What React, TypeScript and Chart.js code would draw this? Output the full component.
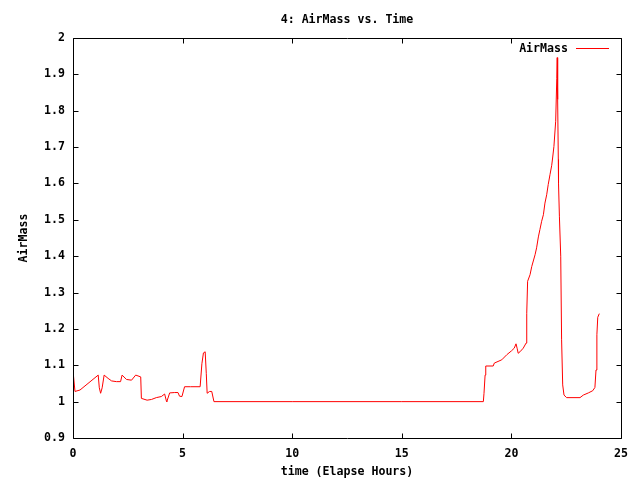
import React, { useEffect, useRef } from "react";
import { Chart, registerables } from "chart.js";

Chart.register(...registerables);

const titleText = "4: AirMass vs. Time";
const xTitle = "time (Elapse Hours)";
const yTitle = "AirMass";
const seriesLabel = "AirMass";

const timeHours = [
  0.0, 0.09, 0.32, 1.15, 1.2, 1.26, 1.33, 1.42, 1.6, 1.76, 1.98, 2.17, 2.24, 2.44, 2.67, 2.86, 3.09, 3.12,
  3.38, 3.58, 3.8, 4.03, 4.18, 4.26, 4.28, 4.41, 4.64, 4.79, 4.86, 4.97, 5.09, 5.36, 5.8, 5.88, 5.95, 6.03,
  6.08, 6.12, 6.23, 6.33, 6.43, 10.0, 15.0, 18.72, 18.75, 18.8, 18.83, 19.17, 19.22, 19.56, 19.79, 20.01,
  20.13, 20.21, 20.26, 20.31, 20.39, 20.54, 20.67, 20.7, 20.74, 20.85, 20.93, 21.08, 21.15, 21.23, 21.3,
  21.38, 21.46, 21.53, 21.61, 21.68, 21.76, 21.84, 21.88, 21.94, 22.02, 22.07, 22.09, 22.11, 22.14, 22.15,
  22.19, 22.25, 22.29, 22.34, 22.4, 22.52, 23.13, 23.28, 23.51, 23.71, 23.81, 23.86, 23.9, 23.94, 24.01,
];

const airMass = [
  1.085, 1.028, 1.032, 1.073, 1.038, 1.023, 1.038, 1.073, 1.064, 1.057, 1.055, 1.055, 1.073, 1.061, 1.059,
  1.073, 1.068, 1.009, 1.004, 1.006, 1.011, 1.014, 1.021, 1.002, 1.0, 1.024, 1.025, 1.025, 1.015, 1.014,
  1.041, 1.041, 1.041, 1.104, 1.134, 1.137, 1.078, 1.023, 1.028, 1.028, 1.0, 1.0, 1.0, 1.0, 1.023, 1.073,
  1.098, 1.098, 1.106, 1.115, 1.129, 1.14, 1.147, 1.159, 1.147, 1.133, 1.137, 1.147, 1.161, 1.243, 1.331,
  1.349, 1.372, 1.404, 1.423, 1.453, 1.473, 1.496, 1.514, 1.546, 1.569, 1.597, 1.624, 1.65, 1.67, 1.702,
  1.771, 1.888, 1.946, 1.831, 1.666, 1.6, 1.51, 1.4, 1.17, 1.046, 1.018, 1.011, 1.011, 1.018, 1.024, 1.03,
  1.039, 1.087, 1.184, 1.232, 1.242,
];

const xMin = 0;
const xMax = 25;
const xStep = 5;
const yMin = 0.9;
const yMax = 2;
const yStep = 0.1;

const FONT = "'DejaVu Sans Mono', monospace";
const FONT_SIZE = 11.6;

const gnuplotPlugin = {
  id: "gnuplotFrame",
  afterDraw(chart: any) {
    const { ctx, chartArea, scales } = chart;
    const { left, right, top, bottom } = chartArea;
    const L = Math.round(left) + 0.5;
    const R = Math.round(right) + 0.5;
    const T = Math.round(top) + 0.5;
    const B = Math.round(bottom) + 0.5;
    const tl = 5;
    ctx.save();
    ctx.strokeStyle = "#000";
    ctx.lineWidth = 1;
    ctx.beginPath();
    ctx.moveTo(L, T);
    ctx.lineTo(R, T);
    ctx.lineTo(R, B);
    ctx.lineTo(L, B);
    ctx.closePath();
    // x ticks (bottom and top, inward)
    scales.x.ticks.forEach((t: any) => {
      const px = Math.round(scales.x.getPixelForValue(t.value)) + 0.5;
      ctx.moveTo(px, B);
      ctx.lineTo(px, B - tl);
      ctx.moveTo(px, T);
      ctx.lineTo(px, T + tl);
    });
    scales.y.ticks.forEach((t: any) => {
      const py = Math.round(scales.y.getPixelForValue(t.value)) + 0.5;
      ctx.moveTo(L, py);
      ctx.lineTo(L + tl, py);
      ctx.moveTo(R, py);
      ctx.lineTo(R - tl, py);
    });
    ctx.stroke();

    // title
    ctx.fillStyle = "#000";
    ctx.font = `bold ${FONT_SIZE}px ${FONT}`;
    ctx.textAlign = "center";
    ctx.textBaseline = "middle";
    ctx.fillText(titleText, (left + right) / 2, 20);

    // legend
    ctx.textAlign = "right";
    ctx.fillText(seriesLabel, 568, 49);
    ctx.strokeStyle = "#ff0000";
    ctx.beginPath();
    ctx.moveTo(576, 48.5);
    ctx.lineTo(609, 48.5);
    ctx.stroke();
    ctx.restore();
  },
};

export default function App() {
  const canvasRef = useRef<HTMLCanvasElement | null>(null);

  useEffect(() => {
    const canvas = canvasRef.current;
    if (!canvas) return;
    const points = timeHours.map((t, i) => ({ x: t, y: airMass[i] }));
    const tickFont = { family: FONT, size: FONT_SIZE, weight: "bold" as const };
    const chart = new Chart(canvas, {
      type: "line",
      data: {
        datasets: [
          {
            label: seriesLabel,
            data: points,
            borderColor: "#ff0000",
            borderWidth: 1,
            pointRadius: 0,
            tension: 0,
            fill: false,
          },
        ],
      },
      options: {
        animation: false,
        responsive: false,
        maintainAspectRatio: false,
        devicePixelRatio: 1,
        layout: { padding: { top: 38, right: 19, left: 0, bottom: 0 } },
        plugins: {
          legend: { display: false },
          title: { display: false },
          tooltip: { enabled: false },
        },
        scales: {
          x: {
            type: "linear",
            min: xMin,
            max: xMax,
            grid: { display: false, drawTicks: false },
            border: { display: false },
            ticks: {
              stepSize: xStep,
              color: "#000",
              font: tickFont,
              padding: 9,
              maxRotation: 0,
              autoSkip: false,
            },
            title: {
              display: true,
              text: xTitle,
              color: "#000",
              font: tickFont,
              padding: { top: 0, bottom: 1 },
            },
            afterFit(scale: any) {
              scale.height = 42;
            },
          },
          y: {
            type: "linear",
            min: yMin,
            max: yMax,
            grid: { display: false, drawTicks: false },
            border: { display: false },
            ticks: {
              stepSize: yStep,
              color: "#000",
              font: tickFont,
              padding: 8,
              autoSkip: false,
              callback: (v: any) => String(Math.round(Number(v) * 10) / 10),
            },
            title: {
              display: true,
              text: yTitle,
              color: "#000",
              font: tickFont,
              padding: { top: 17, bottom: 0 },
            },
            afterFit(scale: any) {
              scale.width = 73;
            },
          },
        },
      },
      plugins: [gnuplotPlugin],
    });
    return () => chart.destroy();
  }, []);

  return (
    <div style={{ position: "absolute", left: 0, top: 0, width: 640, height: 480, background: "#fff" }}>
      <canvas ref={canvasRef} width={640} height={480} style={{ width: 640, height: 480, display: "block" }} />
    </div>
  );
}
